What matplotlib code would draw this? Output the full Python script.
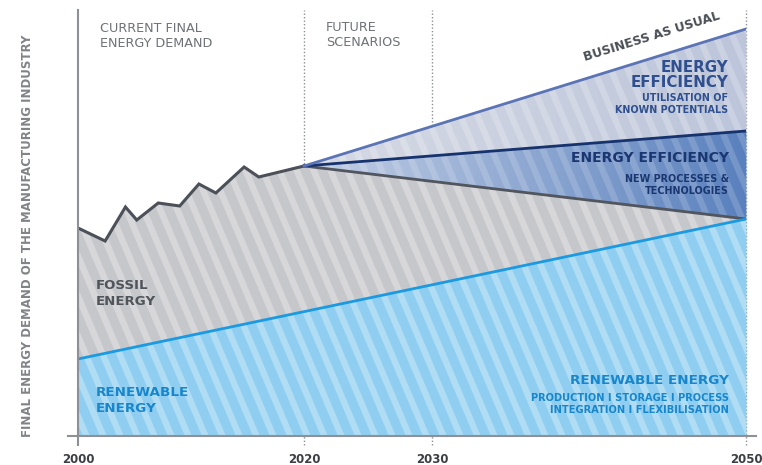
import numpy as np
import matplotlib.pyplot as plt
from matplotlib.collections import LineCollection
from matplotlib.colors import LinearSegmentedColormap

# the original time axis is not evenly spaced
axis_years = [2000, 2020, 2030, 2050]
axis_pos = [0, 226, 354, 668]

# final energy demand (arbitrary units)
hist_years = [2000, 2002.4, 2004.2, 2005.2, 2007.1, 2009.0, 2010.7, 2012.2, 2014.7, 2016.0, 2020]
hist_demand = [208, 195, 229, 216, 233, 230, 252, 243, 269, 259, 270]

future_years = [2020, 2050]
business_as_usual = [270, 407]
efficiency_known = [270, 305]
fossil_future = [270, 217]

renew_years = [2000, 2050]
renewable = [77, 217]

tick_years = [2000, 2020, 2030, 2050]
tick_labels = ['2000', '2020', '2030', '2050']


def pos(y):
    return np.interp(y, axis_years, axis_pos)


def px(x, y):
    # pixel position -> figure fraction
    return x / 762, 1 - y / 465


plt.rcParams['font.family'] = ['DejaVu Sans']
fig = plt.figure(figsize=(7.62, 4.65), dpi=100)
ax = fig.add_axes([78 / 762, 29 / 465, 668 / 762, 426 / 465])

xs = np.unique(np.concatenate([pos(hist_years), np.linspace(0, 668, 700)]))
top = np.interp(xs, pos(hist_years + future_years[1:]), hist_demand + fossil_future[1:])
ren = np.interp(xs, pos(renew_years), renewable)

xf = np.linspace(pos(2020), pos(2050), 300)
bau = np.interp(xf, pos(future_years), business_as_usual)
eff = np.interp(xf, pos(future_years), efficiency_known)
fos = np.interp(xf, pos(future_years), fossil_future)

p_ren = ax.fill_between(xs, 0, ren, color='#8fcef0', lw=0, zorder=1)
p_fos = ax.fill_between(xs, ren, top, color='#c6c7cb', lw=0, zorder=1)
p_mid = ax.fill_between(xf, fos, eff, color='#7f9fcf', lw=0, zorder=1)
p_top = ax.fill_between(xf, eff, bau, color='#c8cedd', lw=0, zorder=1)


def gradient(poly, c0, c1):
    cmap = LinearSegmentedColormap.from_list('g', [c0, c1])
    im = ax.imshow(np.linspace(0, 1, 256)[None, :], cmap=cmap, aspect='auto',
                   extent=[pos(2020), pos(2050), 0, 426], zorder=1.1)
    im.set_clip_path(poly.get_paths()[0], ax.transData)


gradient(p_mid, '#c3cfe5', '#5a81be')
gradient(p_top, '#d6dae4', '#bcc5da')


def stripes(poly, alpha):
    dx = 440 / np.tan(np.radians(67))
    segs = [[(c, 432), (c + dx, -8)] for c in np.arange(-260, 700, 17)]
    lc = LineCollection(segs, colors='white', linewidths=4.6, alpha=alpha, zorder=1.5)
    ax.add_collection(lc)
    lc.set_clip_path(poly.get_paths()[0], ax.transData)


stripes(p_ren, 0.3)
stripes(p_fos, 0.3)
stripes(p_mid, 0.16)
stripes(p_top, 0.22)

# lines
ax.plot(pos(hist_years), hist_demand, color='#4b5059', lw=2.2, zorder=3, solid_joinstyle='miter')
ax.plot(pos(future_years), fossil_future, color='#50555e', lw=2, zorder=3)
ax.plot(pos(future_years), efficiency_known, color='#17336e', lw=2, zorder=3)
ax.plot(pos(future_years), business_as_usual, color='#5b74b5', lw=2, zorder=3)
ax.plot(pos(renew_years), renewable, color='#1b9ae4', lw=2, zorder=3)

# axes and dotted guides
for yr in [2020, 2030, 2050]:
    ax.plot([pos(yr)] * 2, [-9, 426], ls=(0, (1, 1.5)), color='#8d9095', lw=1,
            clip_on=False, zorder=0.5)
ax.plot([0, 0], [-9, 426], color='#8d9095', lw=1.5, clip_on=False, zorder=4)
ax.plot([-10, 678], [0, 0], color='#8d9095', lw=1.5, clip_on=False, zorder=4)

ax.set_xlim(0, 668)
ax.set_ylim(0, 426)
for s in ax.spines.values():
    s.set_visible(False)
ax.set_yticks([])
ax.set_xticks(pos(tick_years), tick_labels, fontweight='bold', color='#3b3e44', fontsize=8.5)
ax.tick_params(axis='x', length=0, pad=12)

fig.text(*px(28, 236), 'FINAL ENERGY DEMAND OF THE MANUFACTURING INDUSTRY', rotation=90,
         ha='center', va='center', fontsize=8.5, fontweight='bold', color='#808388')

grey = '#6e7278'
fig.text(*px(100, 36), 'CURRENT FINAL\nENERGY DEMAND', ha='left', va='center',
         fontsize=9.2, color=grey, linespacing=1.2)
fig.text(*px(326, 35), 'FUTURE\nSCENARIOS', ha='left', va='center',
         fontsize=9.2, color=grey, linespacing=1.2)
fig.text(*px(652, 37), 'BUSINESS AS USUAL', ha='center', va='center', rotation=17.2,
         fontsize=8.9, fontweight='bold', color='#4a4e55', rotation_mode='anchor')

fig.text(*px(728, 75), 'ENERGY\nEFFICIENCY', ha='right', va='center', fontsize=10.8,
         fontweight='bold', color='#2f4f8f', linespacing=1.0)
fig.text(*px(728, 104), 'UTILISATION OF\nKNOWN POTENTIALS', ha='right', va='center', fontsize=6.9,
         fontweight='bold', color='#2f4f8f', linespacing=1.25)

fig.text(*px(729, 158), 'ENERGY EFFICIENCY', ha='right', va='center', fontsize=10,
         fontweight='bold', color='#1b3670')
fig.text(*px(729, 185), 'NEW PROCESSES &\nTECHNOLOGIES', ha='right', va='center', fontsize=6.9,
         fontweight='bold', color='#1b3670', linespacing=1.25)

fig.text(*px(729, 380), 'RENEWABLE ENERGY', ha='right', va='center', fontsize=9.7,
         fontweight='bold', color='#1886cc')
fig.text(*px(729, 404), 'PRODUCTION I STORAGE I PROCESS\nINTEGRATION I FLEXIBILISATION',
         ha='right', va='center', fontsize=7.1, fontweight='bold', color='#1886cc',
         linespacing=1.2, multialignment='right')

fig.text(*px(96, 293), 'FOSSIL\nENERGY', ha='left', va='center', fontsize=9.6,
         fontweight='bold', color='#50555c', linespacing=1.3)
fig.text(*px(96, 401), 'RENEWABLE\nENERGY', ha='left', va='center', fontsize=9.7,
         fontweight='bold', color='#1886cc', linespacing=1.3)

fig.savefig('out.png', dpi=100)
